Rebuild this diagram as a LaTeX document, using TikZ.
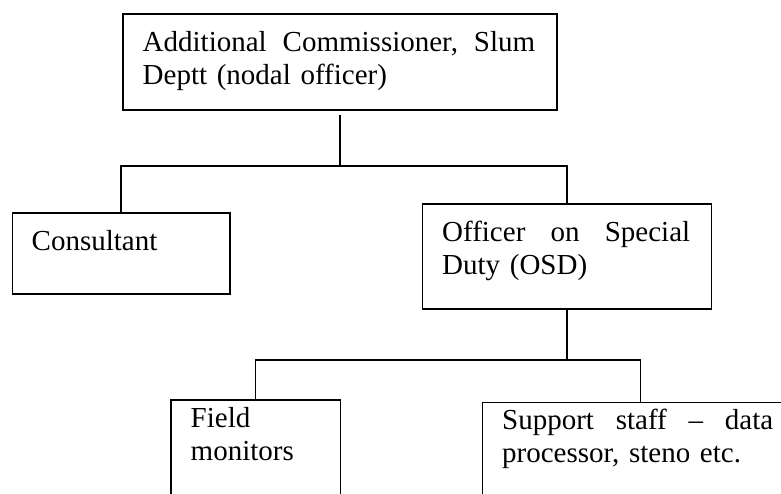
\documentclass[tikz,border=0pt]{standalone}
\usepackage{fontspec}
\setmainfont{Liberation Serif}
\usetikzlibrary{calc}
\tikzset{
  box/.style={draw, line width=1.8pt, inner sep=0pt, anchor=north west},
  link/.style={draw, line width=1.4pt},
  label/.style={inner sep=0pt, anchor=base west, align=left,
    font=\fontsize{29}{33}\selectfont}
}
\begin{document}
\begin{tikzpicture}[x=1pt, y=-1pt]
  \useasboundingbox (0,0) rectangle (781,494);

  % boxes of the chart
  \node[box, minimum width=434pt, minimum height=96pt]   (top)     at (122,13.3)  {};
  \node[box, minimum width=217.5pt, minimum height=81pt] (cons)    at (11.5,212)  {};
  \node[box, minimum width=289pt, minimum height=105pt]  (osd)     at (421.5,203) {};
  \node[box, minimum width=169.5pt, minimum height=130pt](field)   at (170,399)   {};
  \node[box, minimum width=316pt, minimum height=130pt]  (support) at (481.5,401.5) {};

  % texts inside the boxes
  \node[label, text width=392.5pt] (toptxt) at (142.5,51.7)
    {Additional\hfill Commissioner,\hfill Slum\\Deptt (nodal officer)};
  \node[label] (constxt) at (31.5,250.7) {Consultant};
  \node[label, text width=248pt] (osdtxt) at (442,241)
    {Officer\hfill on\hfill Special\\Duty (OSD)};
  \node[label, text width=140pt] (fieldtxt) at (190.5,427.7) {Field\\monitors};
  \node[label, text width=271pt] (supporttxt) at (502,429.5)
    {Support\hfill staff\hfill –\hfill data\\processor, steno etc.};

  % first level of the hierarchy
  \coordinate (stem1) at ($(top.south)+(0,3.5)$);
  \coordinate (j1) at ($(top.south)+(0,55)$);
  \draw[link] (stem1) -- (j1);
  \draw[link] (cons.north) |- (j1) -| (osd.north);

  % second level of the hierarchy
  \coordinate (j2) at ($(osd.south)+(0,50)$);
  \draw[link] (osd.south) -- (j2);
  \draw[link] (field.north) |- (j2) -| (support.north);
\end{tikzpicture}
\end{document}
